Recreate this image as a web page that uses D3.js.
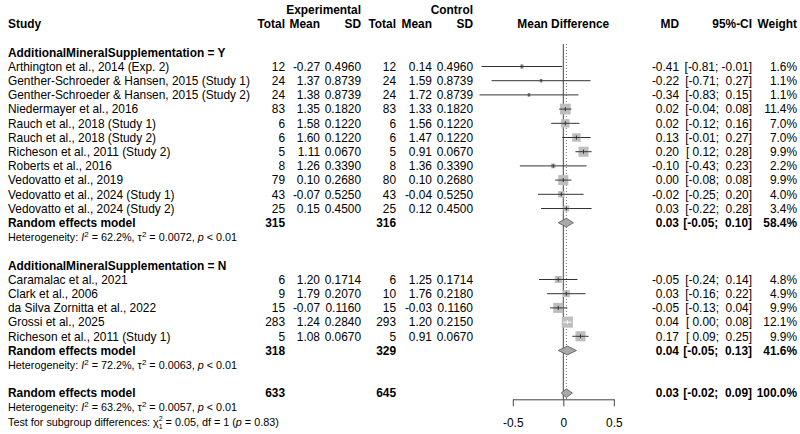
<!DOCTYPE html>
<html><head><meta charset="utf-8">
<script src="https://cdn.jsdelivr.net/npm/d3@7"></script>
<style>
body{margin:0;background:#fff}
svg text{font-family:Arial,"Liberation Sans",sans-serif;font-size:11.9px;fill:#000;white-space:pre}
svg text.het{font-size:10.8px}
</style></head><body>
<svg id="c" width="800" height="434"></svg>
<script>
// ---------- data ----------
const groupLabels = ["AdditionalMineralSupplementation = Y", "AdditionalMineralSupplementation = N"];
const studies = [
 "Arthington et al., 2014 (Exp. 2)","Genther-Schroeder & Hansen, 2015 (Study 1)","Genther-Schroeder & Hansen, 2015 (Study 2)",
 "Niedermayer et al., 2016","Rauch et al., 2018 (Study 1)","Rauch et al., 2018 (Study 2)","Richeson et al., 2011 (Study 2)",
 "Roberts et al., 2016","Vedovatto et al., 2019","Vedovatto et al., 2024 (Study 1)","Vedovatto et al., 2024 (Study 2)",
 "Caramalac et al., 2021","Clark et al., 2006","da Silva Zornitta et al., 2022","Grossi et al., 2025","Richeson et al., 2011 (Study 1)"];
const studyGroup = [0,0,0,0,0,0,0,0,0,0,0,1,1,1,1,1];
const expTotal = [12,24,24,83,6,6,5,8,79,43,25,6,9,15,283,5];
const expMean  = ["-0.27","1.37","1.38","1.35","1.58","1.60","1.11","1.26","0.10","-0.07","0.15","1.20","1.79","-0.07","1.24","1.08"];
const expSD    = ["0.4960","0.8739","0.8739","0.1820","0.1220","0.1220","0.0670","0.3390","0.2680","0.5250","0.4500","0.1714","0.2070","0.1160","0.2840","0.0670"];
const ctlTotal = [12,24,24,83,6,6,5,8,80,43,25,6,10,15,293,5];
const ctlMean  = ["0.14","1.59","1.72","1.33","1.56","1.47","0.91","1.36","0.10","-0.04","0.12","1.25","1.76","-0.03","1.20","0.91"];
const ctlSD    = ["0.4960","0.8739","0.8739","0.1820","0.1220","0.1220","0.0670","0.3390","0.2680","0.5250","0.4500","0.1714","0.2180","0.1160","0.2150","0.0670"];
const md       = [-0.41,-0.22,-0.34,0.02,0.02,0.13,0.20,-0.10,0.00,-0.02,0.03,-0.05,0.03,-0.05,0.04,0.17];
const ciLow    = [-0.81,-0.71,-0.83,-0.04,-0.12,-0.01,0.12,-0.43,-0.08,-0.25,-0.22,-0.24,-0.16,-0.13,0.00,0.09];
const ciHigh   = [-0.01,0.27,0.15,0.08,0.16,0.27,0.28,0.23,0.08,0.20,0.28,0.14,0.22,0.04,0.08,0.25];
const weight   = [1.6,1.1,1.1,11.4,7.0,7.0,9.9,2.2,9.9,4.0,3.4,4.8,4.9,9.9,12.1,9.9];

const summaryLabels = ["Random effects model","Random effects model","Random effects model"];
const summaryExpTotal = [315,318,633];
const summaryCtlTotal = [316,329,645];
const summaryMD   = [0.03,0.04,0.03];
const summaryLow  = [-0.05,-0.05,-0.02];
const summaryHigh = [0.10,0.13,0.09];
const summaryWeight = ["58.4%","41.6%","100.0%"];
const hetI2  = ["62.2%","72.2%","63.2%"];
const hetTau2 = ["0.0072","0.0063","0.0057"];
const hetP   = ["< 0.01","< 0.01","< 0.01"];
const overallEstimate = 0.0305;
const testChi2 = "0.05", testDf = "1", testP = "0.83";
const axisTicks = [-0.5, 0, 0.5];
const axisTickLabels = ["-0.5","0","0.5"];

// ---------- layout ----------
const svg = d3.select("#c");
const row0 = 52.3, rowH = 14.2;
const rowY = r => row0 + r*rowH;
const x = d3.scaleLinear().domain([-0.5,0.5]).range([512.8,613.8]);
const sq = d3.scaleSqrt().domain([0,1]).range([0,3.2]);
const cols = {eT:285, eM:320, eS:361, cT:396, cM:432, cS:473, md:679, ci:752, w:797};
const f2 = d3.format(".2f");
const fmtNum = v => (v<0 ? "-" : "") + f2(Math.abs(v));
const ciText = (lo,hi) => "[" + (lo<0?"":" ") + fmtNum(lo) + "; " + (hi<0?"":" ") + fmtNum(hi) + "]";

function txt(xp, yc, s, anchor="start", bold=false){
  return svg.append("text").attr("x",xp).attr("y",yc+4.2).attr("text-anchor",anchor)
    .style("font-weight", bold?"bold":null).text(s);
}

// assign rows
const studyRows = [];
let r = 0;
const layout = [];
[0,1].forEach(g=>{
  layout.push({type:"group", g, row:r}); r++;
  studies.forEach((s,i)=>{ if(studyGroup[i]===g){ studyRows[i]=r; r++; } });
  layout.push({type:"summary", k:g, row:r}); r++;
  layout.push({type:"het", k:g, row:r}); r++;
  r++;
});
layout.push({type:"summary", k:2, row:r}); r++;
layout.push({type:"het", k:2, row:r}); r++;
layout.push({type:"test", row:r});

// headers
txt(cols.eS, rowY(-3), "Experimental", "end", true);
txt(cols.cS, rowY(-3), "Control", "end", true);
txt(8, rowY(-2), "Study", "start", true);
txt(cols.eT, rowY(-2), "Total", "end", true);
txt(cols.eM, rowY(-2), "Mean", "end", true);
txt(cols.eS, rowY(-2), "SD", "end", true);
txt(cols.cT, rowY(-2), "Total", "end", true);
txt(cols.cM, rowY(-2), "Mean", "end", true);
txt(cols.cS, rowY(-2), "SD", "end", true);
txt(x(0), rowY(-2), "Mean Difference", "middle", true);
txt(cols.md, rowY(-2), "MD", "end", true);
txt(cols.ci, rowY(-2), "95%-CI", "end", true);
txt(cols.w, rowY(-2), "Weight", "end", true);

// reference lines
const yTop = 44, yAxis = 399.3;
svg.append("line").attr("x1",x(0)).attr("x2",x(0)).attr("y1",yTop).attr("y2",yAxis)
  .attr("stroke","#444").attr("stroke-width",1);
svg.append("line").attr("x1",x(overallEstimate)).attr("x2",x(overallEstimate)).attr("y1",yTop).attr("y2",yAxis)
  .attr("stroke","#777").attr("stroke-width",1).attr("stroke-dasharray","1,2");

// studies
studies.forEach((s,i)=>{
  const yc = rowY(studyRows[i]);
  txt(8, yc, s);
  txt(cols.eT, yc, String(expTotal[i]), "end");
  txt(cols.eM, yc, expMean[i], "end");
  txt(cols.eS, yc, expSD[i], "end");
  txt(cols.cT, yc, String(ctlTotal[i]), "end");
  txt(cols.cM, yc, ctlMean[i], "end");
  txt(cols.cS, yc, ctlSD[i], "end");
  txt(cols.md, yc, fmtNum(md[i]), "end");
  txt(cols.ci, yc, ciText(ciLow[i], ciHigh[i]), "end");
  txt(cols.w, yc, weight[i].toFixed(1)+"%", "end");
  const side = sq(weight[i]);
  const cx = x(md[i]);
  svg.append("line").attr("x1",x(ciLow[i])).attr("x2",x(ciHigh[i])).attr("y1",yc).attr("y2",yc)
    .attr("stroke","#333").attr("stroke-width",1);
  svg.append("rect").attr("x",cx-side/2).attr("y",yc-side/2).attr("width",side).attr("height",side)
    .attr("fill","#bebebe");
  const inside = (x(ciHigh[i]) - x(ciLow[i])) < side;
  const col = inside ? "#fff" : "#333";
  svg.append("line").attr("x1",Math.max(x(ciLow[i]),cx-side/2)).attr("x2",Math.min(x(ciHigh[i]),cx+side/2))
    .attr("y1",yc).attr("y2",yc).attr("stroke",col).attr("stroke-width",1);
  const th = Math.min(2, side/2);
  svg.append("line").attr("x1",cx).attr("x2",cx).attr("y1",yc-th).attr("y2",yc+th)
    .attr("stroke",col).attr("stroke-width",1);
});

function hetText(yc, k){
  const t = svg.append("text").attr("class","het").attr("x",8).attr("y",yc+4);
  t.append("tspan").text("Heterogeneity: ");
  t.append("tspan").style("font-style","italic").text("I");
  t.append("tspan").attr("dy",-4).style("font-size","8px").text("2");
  t.append("tspan").attr("dy",4).text(" = " + hetI2[k] + ", \u03C4");
  t.append("tspan").attr("dy",-4).style("font-size","8px").text("2");
  t.append("tspan").attr("dy",4).text(" = " + hetTau2[k] + ", ");
  t.append("tspan").style("font-style","italic").text("p");
  t.append("tspan").text(" " + hetP[k]);
}

layout.forEach(L=>{
  const yc = rowY(L.row);
  if(L.type==="group"){
    txt(8, yc, groupLabels[L.g], "start", true);
  } else if(L.type==="summary"){
    const k = L.k;
    txt(8, yc, summaryLabels[k], "start", true);
    txt(cols.eT, yc, String(summaryExpTotal[k]), "end", true);
    txt(cols.cT, yc, String(summaryCtlTotal[k]), "end", true);
    txt(cols.md, yc, fmtNum(summaryMD[k]), "end", true);
    txt(cols.ci, yc, ciText(summaryLow[k], summaryHigh[k]), "end", true);
    txt(cols.w, yc, summaryWeight[k], "end", true);
    const h = 4.4;
    const pts = [[x(summaryLow[k]),yc],[x(summaryMD[k]),yc-h],[x(summaryHigh[k]),yc],[x(summaryMD[k]),yc+h]];
    svg.append("polygon").attr("points", pts.map(p=>p.join(",")).join(" "))
      .attr("fill","#a9a9a9").attr("stroke","#555").attr("stroke-width",0.8);
  } else if(L.type==="het"){
    hetText(yc, L.k);
  } else if(L.type==="test"){
    const t = svg.append("text").attr("class","het").attr("x",8).attr("y",yc+4);
    t.append("tspan").text("Test for subgroup differences: \u03C7");
    t.append("tspan").attr("dy",-5).style("font-size","7px").text("2");
    t.append("tspan").attr("dx",-3.9).attr("dy",8.5).style("font-size","7px").text(testDf);
    t.append("tspan").attr("dy",-3.5).text(" = " + testChi2 + ", df = " + testDf + " (");
    t.append("tspan").style("font-style","italic").text("p");
    t.append("tspan").text(" = " + testP + ")");
  }
});

// axis
const axis = d3.axisBottom(x).tickValues(axisTicks).tickFormat((d,i)=>axisTickLabels[i]).tickSize(7).tickSizeOuter(0);
const ga = svg.append("g").attr("transform",`translate(0,${yAxis})`).call(axis);
ga.select(".domain").attr("stroke","#444");
ga.selectAll(".tick line").attr("stroke","#444");
ga.selectAll(".tick text").attr("font-family",null).style("font-size","11.9px").attr("y",19.5).attr("dy","0.71em");
</script>
</body></html>
